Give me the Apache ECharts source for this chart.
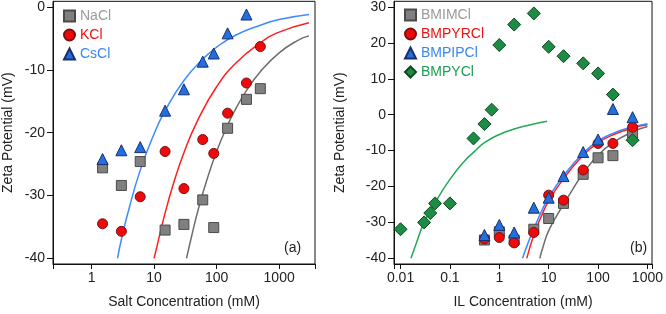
<!DOCTYPE html>
<html><head><meta charset="utf-8">
<script src="https://cdn.jsdelivr.net/npm/echarts@6/dist/echarts.min.js"></script>
<style>html,body{margin:0;padding:0;background:#fff}#c{width:666px;height:314px}</style>
</head><body><div id="c"></div>
<script>
// ---------- Panel (a): salt ----------
const saltConc = [1.5, 3, 6, 15, 30, 60, 90, 150, 300, 500];
const naclZeta = [-25.6, -28.4, -24.6, -35.5, -34.6, -30.7, -35.1, -19.3, -14.7, -13.0];
const kclZeta  = [-34.5, -35.7, -30.2, -23.0, -28.9, -21.1, -23.3, -16.9, -12.1, -6.3];
const csclZeta = [-24.2, -22.8, -22.3, -16.5, -13.1, -8.7, -7.4, -4.2, -1.2];

const fitCsX = [2.6, 3, 4, 6, 10, 15, 30, 60, 100, 200, 500, 1000, 3000];
const fitCsY = [-40, -37, -32, -26, -20.2, -16.5, -11.7, -8.3, -6.4, -4.5, -2.9, -2.0, -1.2];
const fitKX  = [10, 12, 15, 20, 30, 50, 100, 200, 500, 1000, 3000];
const fitKY  = [-40, -36.7, -32.8, -28.4, -23.2, -18, -12.7, -9, -5.7, -4.0, -2.5];
const fitNaX = [33, 40, 50, 70, 100, 150, 200, 300, 500, 1000, 2000, 3000];
const fitNaY = [-40, -36.4, -32.5, -27.5, -23, -18.8, -16.3, -13.3, -10.3, -7.3, -5.3, -4.6];

// ---------- Panel (b): ionic liquids ----------
const ilConc = [0.5, 1, 2, 5, 10, 20, 50, 100, 200, 500];
const bmimZeta  = [-34.9, -32.6, -34.9, -31.9, -28.9, -24.7, -16.6, -12.0, -11.4, -5.1];
const bmpyrZeta = [-34.6, -34.2, -35.7, -32.8, -22.4, -23.8, -15.4, -8.0, -8.0, -3.5];
const bmpipZeta = [-33.5, -30.7, -32.8, -25.9, -23.1, -17.1, -10.4, -6.9, 1.6, -0.7];
const bmpyConc = [0.01, 0.03, 0.04, 0.05, 0.1, 0.3, 0.5, 0.7, 1, 2, 5, 10, 20, 50, 100, 200, 500];
const bmpyZeta = [-31.9, -30.0, -27.4, -24.7, -24.7, -6.6, -2.6, 1.4, 19.4, 25.1, 28.2, 18.9, 16.3, 14.3, 11.5, 5.6, -7.1];

const fitPipX = [2.95, 4, 5, 7, 10, 20, 50, 100, 200, 500, 1000];
const fitPipY = [-40, -35, -31.8, -27.2, -23, -17, -10.7, -7.3, -5.2, -3.4, -2.5];
const fitPyrX = [3.6, 5, 7, 10, 20, 50, 100, 200, 500, 1000];
const fitPyrY = [-40, -33.5, -28.5, -24, -17.8, -11.3, -7.8, -5.6, -3.7, -2.8];
const fitImX  = [6.6, 8, 10, 15, 20, 30, 50, 100, 200, 500, 1000];
const fitImY  = [-40, -36, -32.3, -27.8, -25, -21, -16.3, -11.3, -7.8, -4.8, -3.3];
const fitPyX  = [0.0163, 0.02, 0.03, 0.05, 0.1, 0.2, 0.3, 0.5, 1, 2, 5, 9.3];
const fitPyY  = [-40, -36.5, -30, -24.5, -18, -12.8, -10.5, -7.8, -5.5, -4, -2.6, -1.8];

const yTicksA = [-40, -30, -20, -10, 0];
const yTicksB = [-40, -30, -20, -10, 0, 10, 20, 30];

const FONT = '"Liberation Sans", Arial, Helvetica, sans-serif';
const AX = '#111';
const pairs = (xs, ys) => ys.map((y, i) => [xs[i], y]);

function logLabel(v) {
  const l = Math.log10(v);
  if (Math.abs(l - Math.round(l)) > 1e-6) return '';
  return String(+Math.pow(10, Math.round(l)).toPrecision(6));
}
function xAxis(gi, min, max, name) {
  return {
    type: 'log', logBase: 10, gridIndex: gi, min, max, name,
    nameLocation: 'middle', nameGap: 31,
    nameTextStyle: {fontSize: 14, color: '#222', fontFamily: FONT},
    axisLine: {show: true, onZero: false, lineStyle: {color: AX, width: 1}},
    axisTick: {show: true, length: 5, lineStyle: {color: AX}},
    minorTick: {show: false}, splitLine: {show: false}, minorSplitLine: {show: false},
    axisLabel: {fontSize: 14, color: '#222', fontFamily: FONT, margin: 7, formatter: logLabel}
  };
}
function yAxis(gi, min, max, ticks, gap) {
  return {
    type: 'value', gridIndex: gi, min, max, name: 'Zeta Potential (mV)',
    nameLocation: 'middle', nameGap: gap, nameRotate: 90,
    nameTextStyle: {fontSize: 14, color: '#222', fontFamily: FONT},
    axisLine: {show: true, onZero: false, lineStyle: {color: AX, width: 1}},
    axisTick: {show: true, length: 6, customValues: ticks, lineStyle: {color: AX}},
    splitLine: {show: false},
    axisLabel: {fontSize: 14, color: '#222', fontFamily: FONT, margin: 8, customValues: ticks}
  };
}
function fit(name, gi, xs, ys, color) {
  return {name, type: 'line', xAxisIndex: gi, yAxisIndex: gi, data: pairs(xs, ys),
    showSymbol: false, smooth: true, silent: true, z: 1,
    lineStyle: {color, width: 1.5}};
}
function pts(name, gi, xs, ys, symbol, size, fill, border) {
  return {name, type: 'scatter', xAxisIndex: gi, yAxisIndex: gi, data: pairs(xs, ys),
    symbol, symbolSize: size, z: 3,
    itemStyle: {color: fill, borderColor: border, borderWidth: 1, opacity: 1}};
}

const GRAY = '#808080', GRAYB = '#4a4a4a';
const RED = '#ee0a0a', REDB = '#7a1010';
const BLUE = '#2270e0', BLUEB = '#1a2f6b';
const GREEN = '#1e8b45', GREENB = '#0d4a22';

const option = {
  animation: false,
  backgroundColor: '#fff',
  textStyle: {fontFamily: FONT},
  grid: [
    {left: 52, top: 1, width: 263, height: 264, show: true, borderColor: AX, borderWidth: 1},
    {left: 394, top: 1, width: 264, height: 264, show: true, borderColor: AX, borderWidth: 1}
  ],
  xAxis: [
    xAxis(0, 0.2418, 3746, 'Salt Concentration (mM)'),
    xAxis(1, 0.00737, 1239, 'IL Concentration (mM)')
  ],
  yAxis: [
    yAxis(0, -40.9, 0.9, yTicksA, 38),
    yAxis(1, -41.58, 31.58, yTicksB, 47)
  ],
  legend: [
    {left: 63, top: 9, orient: 'vertical', itemGap: 5, itemWidth: 11, itemHeight: 11, padding: 0,
     textStyle: {fontSize: 14, fontFamily: FONT},
     data: [{name: 'NaCl', textStyle: {color: '#9a9a9a'}},
            {name: 'KCl', textStyle: {color: '#ee1111'}},
            {name: 'CsCl', textStyle: {color: '#3a86f0'}}]},
    {left: 404, top: 8, orient: 'vertical', itemGap: 5, itemWidth: 11, itemHeight: 11, padding: 0,
     textStyle: {fontSize: 14, fontFamily: FONT},
     data: [{name: 'BMIMCl', textStyle: {color: '#9a9a9a'}},
            {name: 'BMPYRCl', textStyle: {color: '#ee1111'}},
            {name: 'BMPIPCl', textStyle: {color: '#3a86f0'}},
            {name: 'BMPYCl', textStyle: {color: '#1aa050'}}]}
  ],
  graphic: [
    {type: 'text', left: 284, top: 241, style: {text: '(a)', font: '14px ' + FONT, fill: '#222'}},
    {type: 'text', left: 630, top: 241, style: {text: '(b)', font: '14px ' + FONT, fill: '#222'}}
  ],
  series: [
    fit('fitNa', 0, fitNaX, fitNaY, '#6e6e6e'),
    fit('fitK', 0, fitKX, fitKY, '#ff1f1f'),
    fit('fitCs', 0, fitCsX, fitCsY, '#3d8bff'),
    pts('NaCl', 0, saltConc, naclZeta, 'rect', 10, GRAY, GRAYB),
    pts('KCl', 0, saltConc, kclZeta, 'circle', 10, RED, REDB),
    pts('CsCl', 0, saltConc, csclZeta, 'triangle', 11, BLUE, BLUEB),

    fit('fitIm', 1, fitImX, fitImY, '#6e6e6e'),
    fit('fitPyr', 1, fitPyrX, fitPyrY, '#ff1f1f'),
    fit('fitPip', 1, fitPipX, fitPipY, '#3d8bff'),
    fit('fitPy', 1, fitPyX, fitPyY, '#22aa55'),
    pts('BMIMCl', 1, ilConc, bmimZeta, 'rect', 10, GRAY, GRAYB),
    pts('BMPYRCl', 1, ilConc, bmpyrZeta, 'circle', 10, RED, REDB),
    pts('BMPIPCl', 1, ilConc, bmpipZeta, 'triangle', 11, BLUE, BLUEB),
    pts('BMPYCl', 1, bmpyConc, bmpyZeta, 'diamond', 13, GREEN, GREENB)
  ]
};
const chart = echarts.init(document.getElementById('c'), null, {renderer: 'canvas'});
chart.setOption(option);
</script>
</body></html>
